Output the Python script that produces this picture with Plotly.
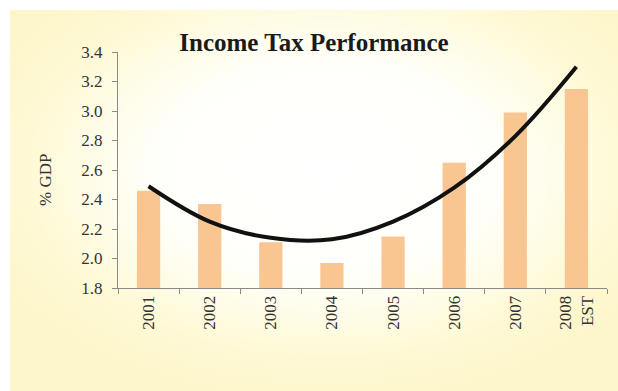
import base64
import plotly.graph_objects as go

years = ["2001", "2002", "2003", "2004", "2005", "2006", "2007", "2008<br>EST"]
pct_gdp = [2.46, 2.37, 2.11, 1.97, 2.15, 2.65, 2.99, 3.15]
trend = [2.49, 2.25, 2.14, 2.13, 2.25, 2.48, 2.83, 3.30]
y_ticks = [1.8, 2.0, 2.2, 2.4, 2.6, 2.8, 3.0, 3.2, 3.4]

W, H = 618, 391
L, R, T, B = 118, 11, 52, 103
pw, ph = W - L - R, H - T - B

svg = ("<svg xmlns='http://www.w3.org/2000/svg' width='608' height='381' viewBox='0 0 608 381' preserveAspectRatio='none'>"
       "<defs><radialGradient id='g' cx='0.52' cy='0.42' r='0.62'>"
       "<stop offset='0' stop-color='#ffffff'/>"
       "<stop offset='0.45' stop-color='#fffffa'/>"
       "<stop offset='0.8' stop-color='#fef9d4'/>"
       "<stop offset='1' stop-color='#fdf6ca'/>"
       "</radialGradient></defs><rect width='608' height='381' fill='url(#g)'/></svg>")
src = "data:image/svg+xml;base64," + base64.b64encode(svg.encode()).decode()

fig = go.Figure()
fig.add_trace(go.Bar(x=years, y=pct_gdp, marker=dict(color="#F9C692", line=dict(width=0)),
                     width=0.38, showlegend=False, hoverinfo="skip"))
fig.add_trace(go.Scatter(x=years, y=trend, mode="lines",
                         line=dict(color="#111111", width=4, shape="spline", smoothing=1.0),
                         showlegend=False, hoverinfo="skip"))

fig.add_layout_image(dict(source=src, xref="paper", yref="paper",
                          x=(10 - L) / pw, y=(T + ph - 10) / ph,
                          sizex=(W - 10) / pw, sizey=(H - 10) / ph,
                          xanchor="left", yanchor="top", sizing="stretch", layer="below"))

fig.add_annotation(text="% GDP", xref="paper", yref="paper",
                   x=(45 - L) / pw, y=(T + ph - 180) / ph, xanchor="center", yanchor="middle",
                   textangle=-90, showarrow=False,
                   font=dict(family="Liberation Serif", size=17, color="#333333"))

fig.update_layout(
    width=W, height=H,
    margin=dict(l=L, r=R, t=T, b=B),
    paper_bgcolor="white", plot_bgcolor="rgba(0,0,0,0)",
    title=dict(text="<b>Income Tax Performance</b>", x=314 / W, xref="container", xanchor="center",
               y=1 - 42 / H, yref="container", yanchor="middle",
               font=dict(family="Liberation Serif", size=25, color="#1a1a1a")),
    font=dict(family="Liberation Serif", color="#333333"),
)
fig.update_xaxes(type="category", showline=True, linecolor="#8a8a8a", linewidth=1,
                 ticks="outside", tickson="boundaries", ticklen=5, tickcolor="#8a8a8a",
                 tickangle=-90, tickfont=dict(family="Liberation Serif", size=17, color="#333333"),
                 showgrid=False, zeroline=False, range=[-0.5, 7.5])
fig.update_yaxes(range=[1.8, 3.4], tickvals=y_ticks, ticktext=[f"{v:.1f}" for v in y_ticks],
                 showline=True, linecolor="#8a8a8a", linewidth=1, ticks="outside", ticklen=5,
                 tickcolor="#8a8a8a", tickfont=dict(family="Liberation Serif", size=17, color="#333333"),
                 ticklabelstandoff=6,
                 showgrid=False, zeroline=False)

fig.write_html("out.html")
